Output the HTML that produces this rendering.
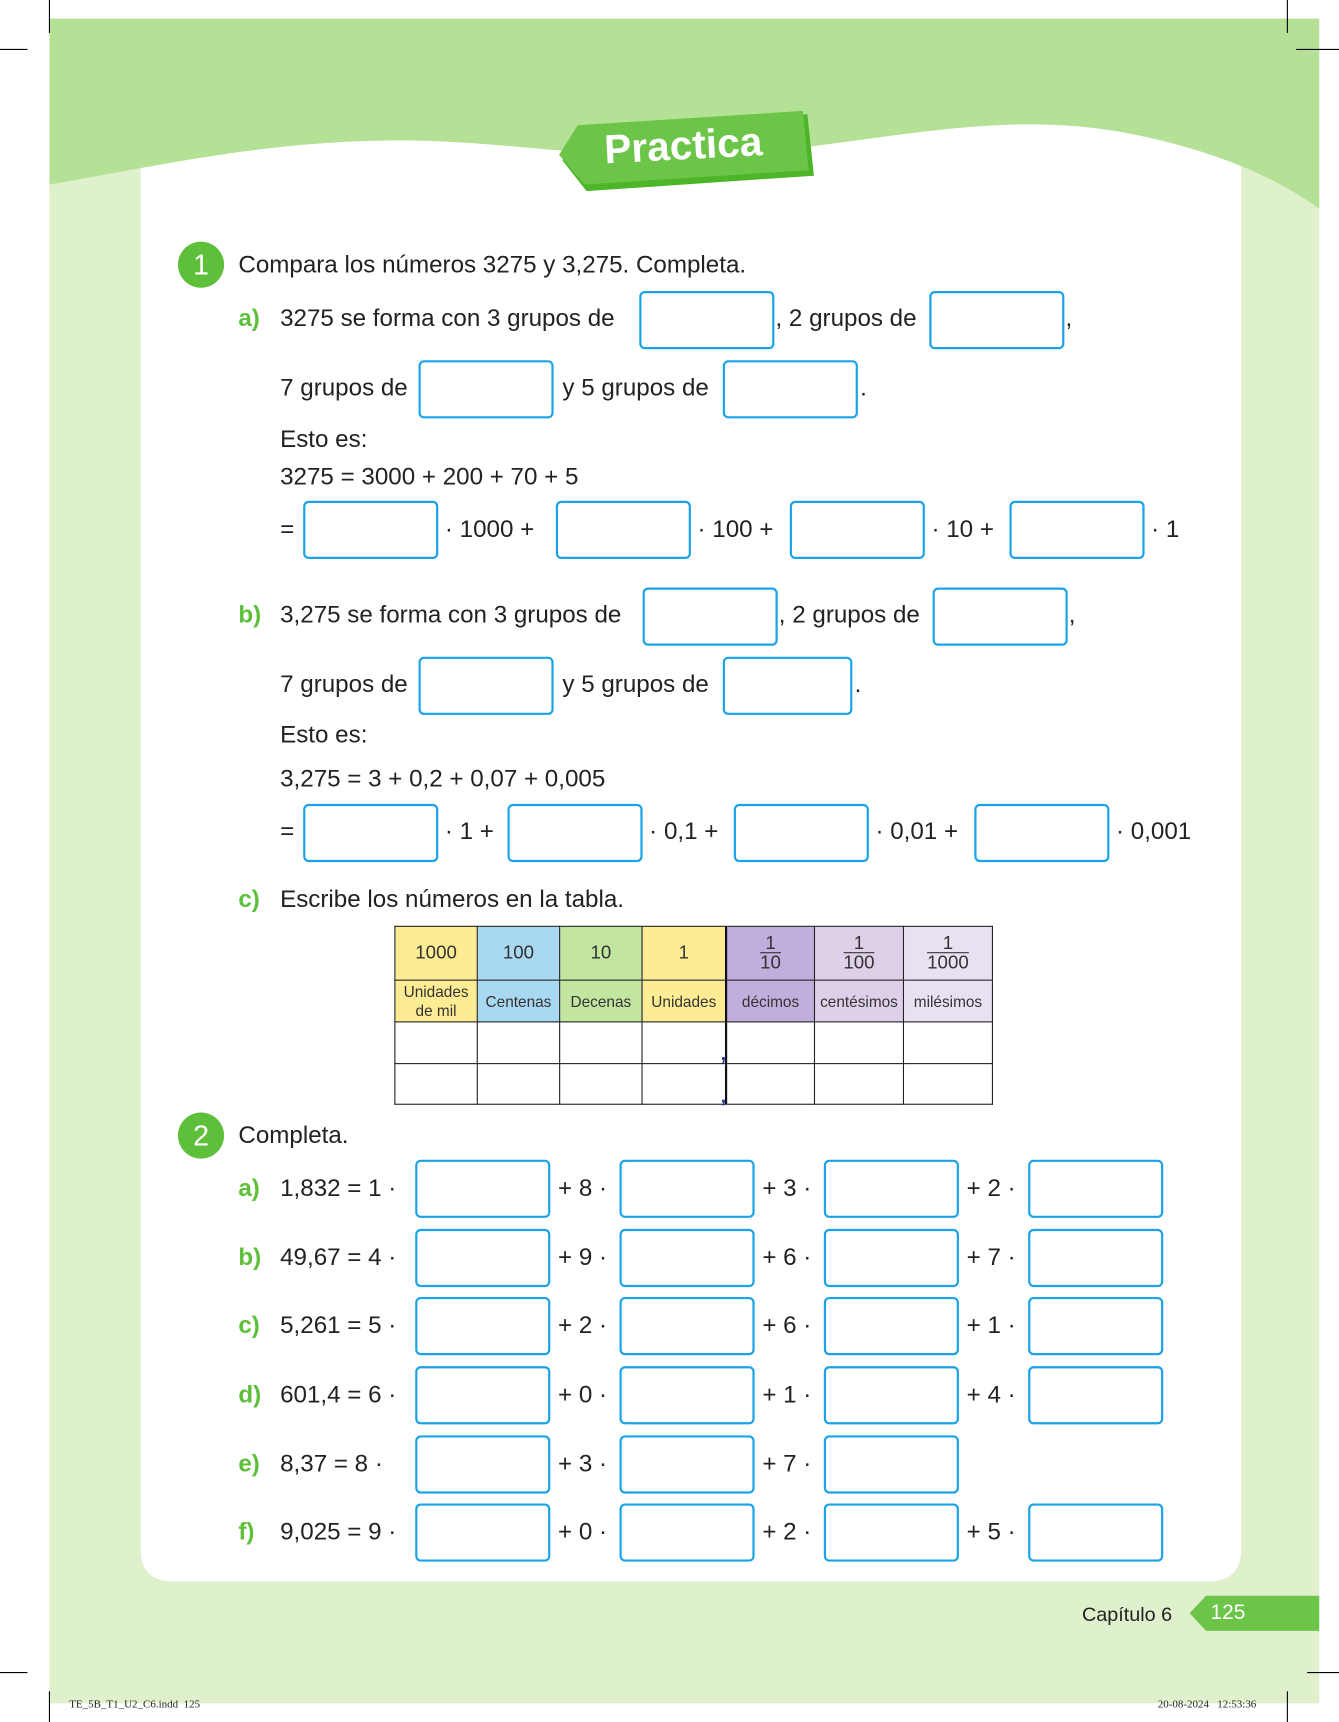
<!DOCTYPE html>
<html><head><meta charset="utf-8"><style>
html,body{margin:0;padding:0;background:#fff;width:1339px;height:1722px;overflow:hidden}
#w{position:absolute;left:0;top:0;width:1219px;height:1568px;transform:scale(1.09844,1.09821);transform-origin:0 0;font-family:"Liberation Sans",sans-serif;color:#222}
.a{position:absolute}
.t{position:absolute;font-size:22px;line-height:26px;white-space:nowrap}
.b{position:absolute;width:119px;height:49px;border:2px solid #1aa3e8;border-radius:5px;background:#fff}
.g{color:#5dbf3a;font-weight:bold}
.c{position:absolute;width:42px;height:42px;border-radius:50%;background:#5dbf3a;color:#fff;font-size:26px;line-height:42px;text-align:center}
table{position:absolute;left:359px;top:843px;border-collapse:collapse;font-size:15px;color:#333}
td{border:1px solid #222;text-align:center;padding:0;width:74px}
.fr{display:inline-block;line-height:17px;font-size:17px}
.fr span{display:block;border-bottom:1px solid #333;padding:0 3px}
</style></head><body><div id="w">
<div class="a" style="left:45px;top:17px;width:1156px;height:1534px;background:#dff1cc"></div>
<svg class="a" style="left:0;top:0" width="1219" height="1568">
<path d="M128,1410 V100 H1130 V1410 Q1130,1440 1100,1440 H158 Q128,1440 128,1410 Z" fill="#fff"/>
<path d="M45,17 H1201 V190 C1170,168 1120,140 1030,122 C920,100 820,125 700,138 C560,150 480,130 380,128 C250,126 150,150 45,168 Z" fill="#b5e197"/>
<polygon points="528,118 735,104 741,160 534,174 512,146" fill="#4cb528"/>
<polygon points="526,114 731,101 736,155 532,168 509,141" fill="#6cc548"/>
<g stroke="#000" stroke-width="1"><line x1="45" y1="0" x2="45" y2="30"/><line x1="1172" y1="0" x2="1172" y2="30"/><line x1="0" y1="45" x2="25" y2="45"/><line x1="1180" y1="45" x2="1219" y2="45"/>
<line x1="0" y1="1523" x2="25" y2="1523"/><line x1="1190" y1="1523" x2="1219" y2="1523"/><line x1="45" y1="1540" x2="45" y2="1568"/><line x1="1172" y1="1540" x2="1172" y2="1568"/></g>
<polygon points="1098,1453 1201,1453 1201,1485 1098,1485 1083,1469" fill="#6cc548"/>
</svg>
<div class="t" style="left:550px;top:113px;font-size:37px;line-height:40px;color:#fff;font-weight:bold;transform:rotate(-3deg)">Practica</div>

<div class="c" style="left:162px;top:220px">1</div>
<div class="t" style="left:217px;top:228px">Compara los números 3275 y 3,275. Completa.</div>
<div class="t g" style="left:217px;top:277px">a)</div>
<div class="t" style="left:255px;top:277px">3275 se forma con 3 grupos de</div>
<div class="b" style="left:582px;top:265px"></div><div class="t" style="left:706px;top:277px">, 2 grupos de</div>
<div class="b" style="left:846px;top:265px"></div><div class="t" style="left:970px;top:277px">,</div>
<div class="t" style="left:255px;top:340px">7 grupos de</div><div class="b" style="left:381px;top:328px"></div>
<div class="t" style="left:512px;top:340px">y 5 grupos de</div><div class="b" style="left:658px;top:328px"></div><div class="t" style="left:783px;top:340px">.</div>
<div class="t" style="left:255px;top:387px">Esto es:</div>
<div class="t" style="left:255px;top:421px">3275 = 3000 + 200 + 70 + 5</div>
<div class="t" style="left:255px;top:469px">=</div>
<div class="b" style="left:276px;top:456px"></div><div class="t" style="left:405px;top:469px">· 1000 +</div>
<div class="b" style="left:506px;top:456px"></div><div class="t" style="left:635px;top:469px">· 100 +</div>
<div class="b" style="left:719px;top:456px"></div><div class="t" style="left:848px;top:469px">· 10 +</div>
<div class="b" style="left:919px;top:456px"></div><div class="t" style="left:1048px;top:469px">· 1</div>

<div class="t g" style="left:217px;top:547px">b)</div>
<div class="t" style="left:255px;top:547px">3,275 se forma con 3 grupos de</div>
<div class="b" style="left:585px;top:535px"></div><div class="t" style="left:709px;top:547px">, 2 grupos de</div>
<div class="b" style="left:849px;top:535px"></div><div class="t" style="left:973px;top:547px">,</div>
<div class="t" style="left:255px;top:610px">7 grupos de</div><div class="b" style="left:381px;top:598px"></div>
<div class="t" style="left:512px;top:610px">y 5 grupos de</div><div class="b" style="left:658px;top:598px;width:114px"></div><div class="t" style="left:778px;top:610px">.</div>
<div class="t" style="left:255px;top:656px">Esto es:</div>
<div class="t" style="left:255px;top:696px">3,275 = 3 + 0,2 + 0,07 + 0,005</div>
<div class="t" style="left:255px;top:744px">=</div>
<div class="b" style="left:276px;top:732px"></div><div class="t" style="left:405px;top:744px">· 1 +</div>
<div class="b" style="left:462px;top:732px"></div><div class="t" style="left:591px;top:744px">· 0,1 +</div>
<div class="b" style="left:668px;top:732px"></div><div class="t" style="left:797px;top:744px">· 0,01 +</div>
<div class="b" style="left:887px;top:732px"></div><div class="t" style="left:1016px;top:744px">· 0,001</div>

<div class="t g" style="left:217px;top:806px">c)</div>
<div class="t" style="left:255px;top:806px">Escribe los números en la tabla.</div>
<table>
<tr style="height:49px;font-size:17px"><td style="background:#fdec93">1000</td><td style="background:#a8d8f2">100</td><td style="background:#c2e6a0">10</td><td style="background:#fdec93;width:75px">1</td><td style="background:#c0aedc;width:79px;border-left:2px solid #111"><div class="fr"><span>1</span>10</div></td><td style="background:#dfd0ea;width:80px"><div class="fr"><span>1</span>100</div></td><td style="background:#e9e1f2;width:80px"><div class="fr"><span>1</span>1000</div></td></tr>
<tr style="height:38px;font-size:14px"><td style="background:#fdec93;line-height:17px">Unidades<br>de mil</td><td style="background:#a8d8f2">Centenas</td><td style="background:#c2e6a0">Decenas</td><td style="background:#fdec93">Unidades</td><td style="background:#c0aedc;border-left:2px solid #111">décimos</td><td style="background:#dfd0ea">centésimos</td><td style="background:#e9e1f2">milésimos</td></tr>
<tr style="height:38px"><td></td><td></td><td></td><td></td><td style="border-left:2px solid #111"></td><td></td><td></td></tr>
<tr style="height:37px"><td></td><td></td><td></td><td></td><td style="border-left:2px solid #111"></td><td></td><td></td></tr>
</table>
<div class="t" style="left:656px;top:946px;color:#2a3a9a;font-weight:bold;font-size:18px">,</div>
<div class="t" style="left:656px;top:985px;color:#2a3a9a;font-weight:bold;font-size:18px">,</div>

<div class="c" style="left:162px;top:1013px">2</div>
<div class="t" style="left:217px;top:1021px">Completa.</div>

<div class="t g" style="left:217px;top:1069px">a)</div><div class="t" style="left:255px;top:1069px">1,832 = 1 ·</div>
<div class="b" style="left:378px;top:1056px"></div><div class="t" style="left:508px;top:1069px">+ 8 ·</div>
<div class="b" style="left:564px;top:1056px"></div><div class="t" style="left:694px;top:1069px">+ 3 ·</div>
<div class="b" style="left:750px;top:1056px"></div><div class="t" style="left:880px;top:1069px">+ 2 ·</div>
<div class="b" style="left:936px;top:1056px"></div>

<div class="t g" style="left:217px;top:1132px">b)</div><div class="t" style="left:255px;top:1132px">49,67 = 4 ·</div>
<div class="b" style="left:378px;top:1119px"></div><div class="t" style="left:508px;top:1132px">+ 9 ·</div>
<div class="b" style="left:564px;top:1119px"></div><div class="t" style="left:694px;top:1132px">+ 6 ·</div>
<div class="b" style="left:750px;top:1119px"></div><div class="t" style="left:880px;top:1132px">+ 7 ·</div>
<div class="b" style="left:936px;top:1119px"></div>

<div class="t g" style="left:217px;top:1194px">c)</div><div class="t" style="left:255px;top:1194px">5,261 = 5 ·</div>
<div class="b" style="left:378px;top:1181px"></div><div class="t" style="left:508px;top:1194px">+ 2 ·</div>
<div class="b" style="left:564px;top:1181px"></div><div class="t" style="left:694px;top:1194px">+ 6 ·</div>
<div class="b" style="left:750px;top:1181px"></div><div class="t" style="left:880px;top:1194px">+ 1 ·</div>
<div class="b" style="left:936px;top:1181px"></div>

<div class="t g" style="left:217px;top:1257px">d)</div><div class="t" style="left:255px;top:1257px">601,4 = 6 ·</div>
<div class="b" style="left:378px;top:1244px"></div><div class="t" style="left:508px;top:1257px">+ 0 ·</div>
<div class="b" style="left:564px;top:1244px"></div><div class="t" style="left:694px;top:1257px">+ 1 ·</div>
<div class="b" style="left:750px;top:1244px"></div><div class="t" style="left:880px;top:1257px">+ 4 ·</div>
<div class="b" style="left:936px;top:1244px"></div>

<div class="t g" style="left:217px;top:1320px">e)</div><div class="t" style="left:255px;top:1320px">8,37 = 8 ·</div>
<div class="b" style="left:378px;top:1307px"></div><div class="t" style="left:508px;top:1320px">+ 3 ·</div>
<div class="b" style="left:564px;top:1307px"></div><div class="t" style="left:694px;top:1320px">+ 7 ·</div>
<div class="b" style="left:750px;top:1307px"></div>

<div class="t g" style="left:217px;top:1382px">f)</div><div class="t" style="left:255px;top:1382px">9,025 = 9 ·</div>
<div class="b" style="left:378px;top:1369px"></div><div class="t" style="left:508px;top:1382px">+ 0 ·</div>
<div class="b" style="left:564px;top:1369px"></div><div class="t" style="left:694px;top:1382px">+ 2 ·</div>
<div class="b" style="left:750px;top:1369px"></div><div class="t" style="left:880px;top:1382px">+ 5 ·</div>
<div class="b" style="left:936px;top:1369px"></div>

<div class="t" style="left:985px;top:1457px;font-size:18px">Capítulo 6</div>
<div class="t" style="left:1102px;top:1456px;font-size:19px;color:#fff">125</div>
<div class="t" style="left:63px;top:1546px;font-size:10px;line-height:14px;font-family:'Liberation Serif',serif">TE_5B_T1_U2_C6.indd&nbsp;&nbsp;125</div>
<div class="t" style="left:1054px;top:1546px;font-size:10px;line-height:14px;font-family:'Liberation Serif',serif">20-08-2024&nbsp;&nbsp;&nbsp;12:53:36</div>
</div></body></html>
